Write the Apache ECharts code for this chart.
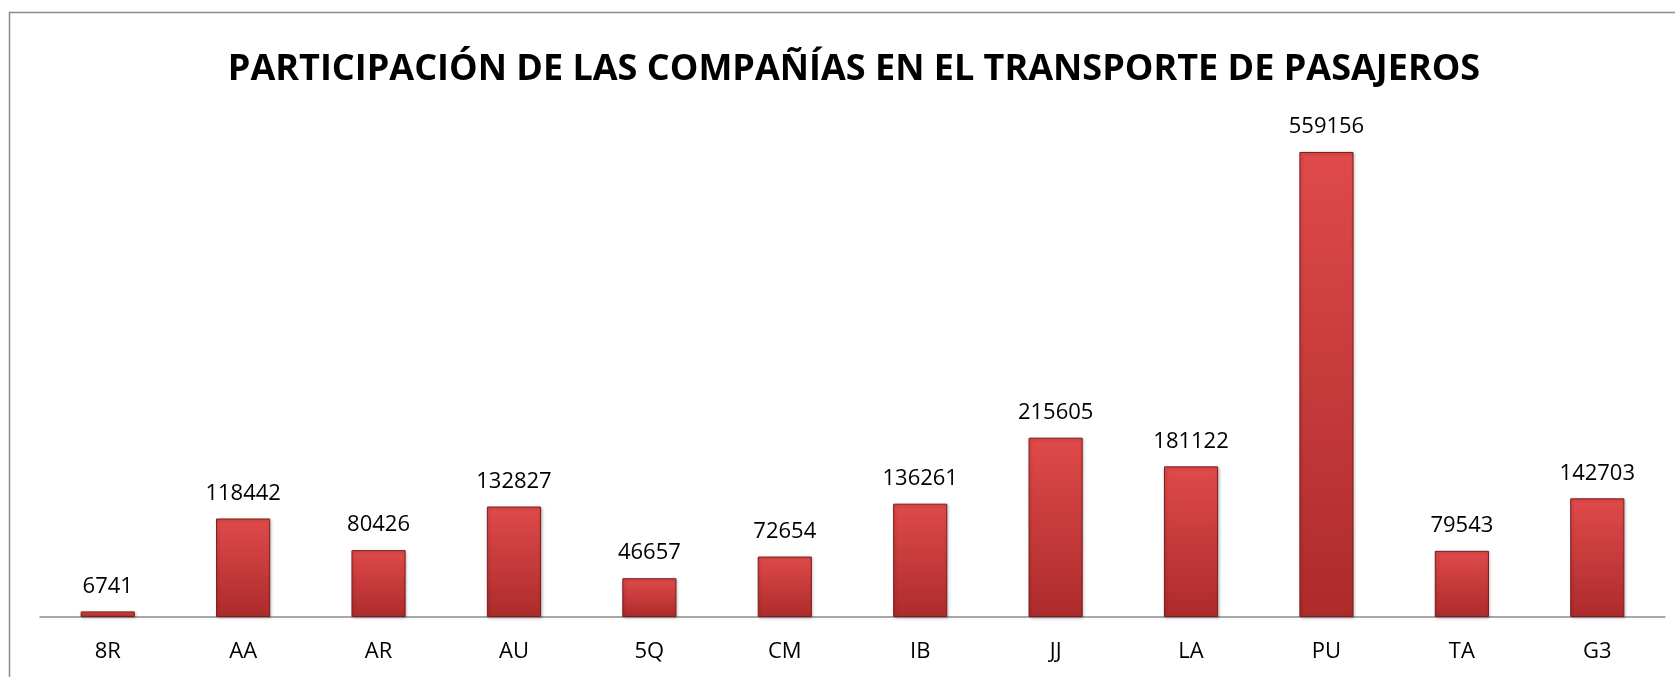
<!DOCTYPE html>
<html>
<head>
<meta charset="utf-8">
<script src="https://cdn.jsdelivr.net/npm/echarts@6/dist/echarts.min.js"></script>
<style>
    html, body { margin: 0; padding: 0; background: #fff; }
    #chart { width: 1675px; height: 677px; }
</style>
</head>
<body>
<div id="chart"></div>
<script>
// compañías
var companias = ['8R', 'AA', 'AR', 'AU', '5Q', 'CM', 'IB', 'JJ', 'LA', 'PU', 'TA', 'G3'];
// pasajeros transportados
var pasajeros = [6741, 118442, 80426, 132827, 46657, 72654, 136261, 215605, 181122, 559156, 79543, 142703];

var myChart = echarts.init(document.getElementById('chart'), '');

// relleno de las barras
var rojo = new echarts.graphic.LinearGradient(0, 0, 0, 1, [
    { offset: 0, color: '#e04a4a' },
    { offset: 1, color: '#ad2b2b' }
]);

var option = {
    backgroundColor: '#fff',
    animation: false,
    title: {
        text: 'PARTICIPACIÓN DE LAS COMPAÑÍAS EN EL TRANSPORTE DE PASAJEROS',
        left: 849,
        textAlign: 'center',
        top: 47,
        textStyle: {
            fontFamily: 'Open Sans',
            fontWeight: 'bold',
            fontSize: 36,
            color: '#000'
        }
    },
    graphic: [
        {
            type: 'rect',
            shape: { x: 9.5, y: 12.5, width: 1700, height: 700 },
            style: { fill: 'none', stroke: '#8c8c8c', lineWidth: 1.5 },
            z: -1
        }
    ],
    grid: {
        left: 40,
        right: 10,
        top: 118,
        bottom: 60,
        containLabel: false
    },
    xAxis: {
        type: 'category',
        data: companias,
        axisLine: { lineStyle: { color: '#8c8c8c', width: 1.5 } },
        axisTick: { show: false },
        axisLabel: {
            margin: 24,
            fontFamily: 'Open Sans',
            fontSize: 22,
            color: '#000'
        }
    },
    yAxis: {
        type: 'value',
        min: 0,
        max: 600000,
        show: false,
        splitLine: { show: false }
    },
    series: [
        {
            type: 'bar',
            data: pasajeros,
            barWidth: '40%',
            itemStyle: {
                color: rojo,
                borderColor: '#7e1c1c',
                borderWidth: 1,
                shadowColor: 'rgba(0,0,0,0.25)',
                shadowBlur: 3,
                shadowOffsetX: 1,
                shadowOffsetY: 1
            },
            label: {
                show: true,
                position: 'top',
                distance: 14,
                fontFamily: 'Open Sans',
                fontSize: 22,
                color: '#000'
            }
        }
    ]
};
myChart.setOption(option);
</script>
</body>
</html>
